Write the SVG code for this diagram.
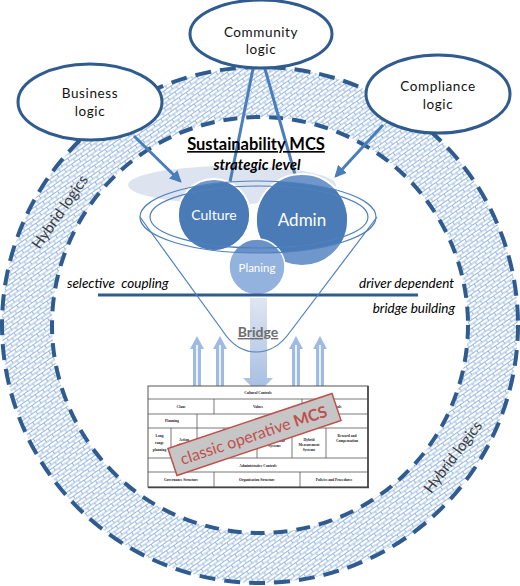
<svg xmlns="http://www.w3.org/2000/svg" width="520" height="586" viewBox="0 0 520 586">
<style>
.lbl{font-family:Lato,"Open Sans",sans-serif;fill:#000}
.logic{font-family:Lato,"Open Sans",sans-serif;font-size:13.5px;fill:#111;text-anchor:middle;letter-spacing:0.6px}
.hyb{font-family:Lato,"Open Sans",sans-serif;font-size:15px;fill:#3a3a3a;text-anchor:middle}
.node{fill:#fff;stroke:#2f5b8f;stroke-width:3}
.arr{stroke:#4a7ebb;stroke-width:3;fill:none}
.fun{fill:none;stroke:#4f81bd;stroke-width:1.2}
.ct{font-family:Lato,"Open Sans",sans-serif;fill:#fff;text-anchor:middle}
.tb{font-family:"Liberation Serif",serif;font-size:3.6px;font-weight:bold;fill:#222;text-anchor:middle}
.tl{stroke:#555;stroke-width:0.8;fill:none}
.it{font-family:Lato,"Open Sans",sans-serif;font-size:13.5px;font-style:italic;fill:#000}
</style>
<defs>
<pattern id="brick" width="9" height="7" patternUnits="userSpaceOnUse" patternTransform="rotate(-35)">
<rect width="9" height="7" fill="#fff"/>
<path d="M0,0.5H9M0,4H9M0.5,0.5V4M5,4V7.5" stroke="#8db1de" stroke-width="0.9" fill="none"/>
</pattern>
<marker id="ah" viewBox="0 0 10 10" refX="8" refY="5" markerWidth="4" markerHeight="4" orient="auto" markerUnits="strokeWidth">
<path d="M0,0L10,5L0,10z" fill="#4a7ebb"/>
</marker>
<linearGradient id="bg" x1="0" y1="0" x2="0" y2="1">
<stop offset="0" stop-color="#dfe6f1"/>
<stop offset="1" stop-color="#a4bde1"/>
</linearGradient>
<clipPath id="fc"><ellipse cx="258" cy="217" rx="118" ry="36"/></clipPath>
<g id="up">
<path d="M-4,387V349H-7L0,336L7,349H4V387z" fill="#9fbbe2"/>
<path d="M0,345V387" stroke="#fff" stroke-width="1.6"/>
</g>
</defs>

<g id="ring">
<path d="M2,325a258,258 0 1,0 516,0a258,258 0 1,0 -516,0zM52,325a208,208 0 1,0 416,0a208,208 0 1,0 -416,0z" fill="url(#brick)" fill-rule="evenodd"/>
<circle cx="260" cy="325" r="258" fill="none" stroke="#2f5b8f" stroke-width="4" stroke-dasharray="16 9"/>
<circle cx="260" cy="325" r="208" fill="none" stroke="#2f5b8f" stroke-width="4" stroke-dasharray="14 9"/>
<text class="hyb" transform="translate(60,212) rotate(-55)" dy="5">Hybrid logics</text>
<text class="hyb" transform="translate(453,457) rotate(-53)" dy="5">Hybrid logics</text>
</g>

<ellipse id="halo" cx="232" cy="185" rx="104" ry="19" fill="#dde4ef"/>

<g id="connectors">
<line class="arr" x1="134" y1="136" x2="180" y2="181" marker-end="url(#ah)"/>
<line class="arr" x1="253" y1="69" x2="230" y2="182"/>
<line class="arr" x1="265" y1="69" x2="296" y2="178"/>
<line class="arr" x1="383" y1="125" x2="336" y2="176" marker-end="url(#ah)"/>
</g>

<g id="funnel">
<g id="culture">
<circle cx="214" cy="215" r="36" fill="#6f97cc" stroke="#fff" stroke-width="2"/>
<circle cx="214" cy="215" r="35" fill="#4a7bb7" clip-path="url(#fc)"/>
<text class="ct" x="214" y="220" font-size="14">Culture</text>
</g>
<g id="admin">
<circle cx="302" cy="220" r="46" fill="#6f97cc" stroke="#fff" stroke-width="2"/>
<circle cx="302" cy="220" r="45" fill="#4a7bb7" clip-path="url(#fc)"/>
<text class="ct" x="302" y="226" font-size="17">Admin</text>
</g>
<g id="planing">
<circle cx="257" cy="267" r="28" fill="#93b3de" stroke="#fff" stroke-width="1.5"/>
<circle cx="257" cy="267" r="27" fill="#6a92c8" clip-path="url(#fc)"/>
<text class="ct" x="257" y="272" font-size="11.5" fill="#eef3fa">Planing</text>
</g>
<ellipse class="fun" cx="258" cy="217" rx="118" ry="36"/>
<ellipse class="fun" cx="259" cy="217" rx="109" ry="31"/>
</g>

<g id="title">
<text class="lbl" x="256" y="150" font-size="16.5" font-weight="bold" text-anchor="middle" text-decoration="underline">Sustainability MCS</text>
<text class="lbl" x="257" y="170" font-size="15" font-weight="bold" font-style="italic" text-anchor="middle">strategic level</text>
</g>

<g id="business"><ellipse class="node" cx="90" cy="102" rx="72" ry="38"/>
<text class="logic" x="90" y="98">Business</text><text class="logic" x="90" y="116">logic</text></g>
<g id="community"><ellipse class="node" cx="261" cy="34" rx="71" ry="34"/>
<text class="logic" x="261" y="37">Community</text><text class="logic" x="261" y="54">logic</text></g>
<g id="compliance"><ellipse class="node" cx="438" cy="94" rx="72" ry="39"/>
<text class="logic" x="438" y="91">Compliance</text><text class="logic" x="438" y="109">logic</text></g>

<g id="coupling">
<line x1="98" y1="295" x2="418" y2="295" stroke="#2f5b8f" stroke-width="3"/>
<text class="it" x="67" y="288" xml:space="preserve">selective  coupling</text>
<text class="it" x="454" y="288" text-anchor="end">driver dependent</text>
<text class="it" x="455" y="313" text-anchor="end">bridge building</text>
</g>

<g id="bridge">
<path d="M250,298H267V378H273L258,393L243,378H250z" fill="url(#bg)"/>
<path class="fun" d="M140,217L222,330Q236,352 256,352Q276,352 290,332L377,217"/>
<text x="258" y="337" font-family="Lato,'Open Sans',sans-serif" font-size="14" font-weight="bold" fill="#6d6d6d" text-anchor="middle" text-decoration="underline">Bridge</text>
<use href="#up" x="197"/>
<use href="#up" x="220"/>
<use href="#up" x="296"/>
<use href="#up" x="320"/>
</g>

<g id="mcs-table">
<rect x="148" y="386" width="220" height="101" fill="#fff" stroke="#555" stroke-width="1"/>
<path class="tl" d="M148,399H368M148,414H368M148,428H368M148,458H368M148,472H368"/>
<path class="tl" d="M214,399V414M302,399V414M197,414V428M171,428V458M197,428V458M224,428V458M257,428V458M292,428V458M326,428V458M214,472V487M300,472V487"/>
<path d="M368,386V488M148,487.5H369" stroke="#444" stroke-width="1.6"/>
<text class="tb" x="258" y="394">Cultural Controls</text>
<text class="tb" x="181" y="408">Clans</text>
<text class="tb" x="258" y="408">Values</text>
<text class="tb" x="335" y="408">Symbols</text>
<text class="tb" x="172" y="422">Planning</text>
<text class="tb" x="282" y="422">Cybernetic Controls</text>
<text class="tb" x="159.5" y="437">Long</text>
<text class="tb" x="159.5" y="444">range</text>
<text class="tb" x="159.5" y="451">planning</text>
<text class="tb" x="184" y="441">Action</text>
<text class="tb" x="184" y="446">planning</text>
<text class="tb" x="210.5" y="444">Budgets</text>
<text class="tb" x="240.5" y="439">Financial</text>
<text class="tb" x="240.5" y="444">Measurement</text>
<text class="tb" x="240.5" y="449">Systems</text>
<text class="tb" x="274.5" y="437">Non Financial</text>
<text class="tb" x="274.5" y="442">Measurement</text>
<text class="tb" x="274.5" y="447">Systems</text>
<text class="tb" x="309" y="441">Hybrid</text>
<text class="tb" x="309" y="446">Measurement</text>
<text class="tb" x="309" y="451">Systems</text>
<text class="tb" x="347" y="437">Reward and</text>
<text class="tb" x="347" y="442">Compensation</text>
<text class="tb" x="258" y="466.5">Administrative Controls</text>
<text class="tb" x="181" y="481">Governance Structure</text>
<text class="tb" x="257" y="481">Organisation Structure</text>
<text class="tb" x="334" y="481">Policies and Procedures</text>
</g>

<g id="classic-label" transform="translate(254.5,434.5) rotate(-18.5)">
<rect x="-86.5" y="-14.25" width="173" height="28.5" fill="#c6c6c6" stroke="#c0504d" stroke-width="1.5"/>
<text x="-1" y="6" font-family="Lato,'Open Sans',sans-serif" font-size="16" fill="#c0504d" text-anchor="middle">classic operative <tspan font-weight="bold">MCS</tspan></text>
</g>
</svg>
